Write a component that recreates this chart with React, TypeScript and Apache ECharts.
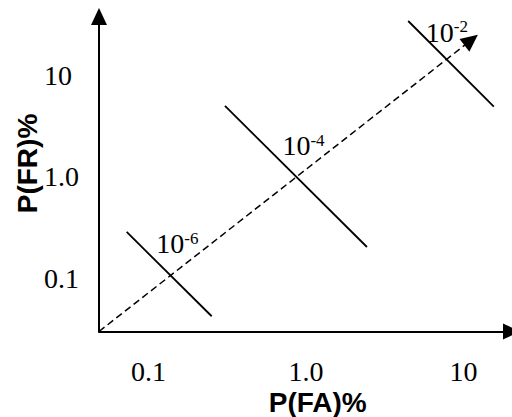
import React, { useEffect, useRef } from "react";
import * as echarts from "echarts";

// Axis extents (percent)
const FA_RANGE = [0.0485, 20.2];
const FR_RANGE = [0.03, 38.1];

// Tick values and labels
const tickValues = [0.1, 1, 10];
const xTickLabels = ["0.1", "1.0", "10"];
const yTickLabels = ["0.1", "1.0", "10"];

// Iso-product lines P(FA)·P(FR) = 10^exp
const isoExponents = ["-6", "-4", "-2"];
const isoStartFA = [0.0727, 0.306, 4.46];
const isoStartFR = [0.287, 5.01, 34.4];
const isoEndFA = [0.252, 2.44, 15.6];
const isoEndFR = [0.0424, 0.204, 4.93];
const isoLabelFA = [0.113, 0.714, 5.81];
const isoLabelFR = [0.217, 2.01, 26.5];

// Dashed trend arrow
const trendFA = [0.0485, 11.2];
const trendFR = [0.03, 22.3];

const L = (v: number) => Math.log10(v);

const lookup = (labels: string[]) => (v: number) => {
  const i = tickValues.findIndex((t) => Math.abs(L(t) - v) < 1e-6);
  return i >= 0 ? labels[i] : "";
};

export default function App() {
  const ref = useRef<HTMLDivElement>(null);
  useEffect(() => {
    if (!ref.current) return;
    const chart = echarts.init(ref.current, null, { renderer: "svg" });
    const serif = "'Liberation Serif', 'Times New Roman', serif";
    const sans = "'Liberation Sans', Arial, sans-serif";
    const axisCommon = {
      type: "value" as const,
      axisTick: { show: false },
      splitLine: { show: false },
    };
    const isoSeries = isoExponents.map((e, i) => ({
      type: "line",
      name: "iso" + e,
      silent: true,
      showSymbol: false,
      lineStyle: { color: "#000", width: 1.8 },
      data: [
        [L(isoStartFA[i]), L(isoStartFR[i])],
        [L(isoEndFA[i]), L(isoEndFR[i])],
      ],
    }));
    const option: any = {
      animation: false,
      grid: { left: 99, right: 0.5, top: 16.5, bottom: 85.5 },
      xAxis: {
        ...axisCommon,
        min: L(FA_RANGE[0]),
        max: L(FA_RANGE[1]),
        axisLine: {
          show: true,
          onZero: false,
          symbol: ["none", "triangle"],
          symbolSize: [16, 17],
          lineStyle: { color: "#000", width: 2 },
        },
        axisLabel: {
          customValues: tickValues.map(L),
          formatter: lookup(xTickLabels),
          fontFamily: serif,
          fontSize: 28,
          color: "#000",
          margin: 26,
        },
      },
      yAxis: {
        ...axisCommon,
        min: L(FR_RANGE[0]),
        max: L(FR_RANGE[1]),
        axisLine: {
          show: true,
          onZero: false,
          symbol: ["none", "triangle"],
          symbolSize: [16, 17],
          lineStyle: { color: "#000", width: 2 },
        },
        axisLabel: {
          customValues: tickValues.map(L),
          formatter: lookup(yTickLabels),
          fontFamily: serif,
          fontSize: 28,
          color: "#000",
          align: "left",
          margin: 55,
        },
      },
      series: [
        ...isoSeries,
        {
          type: "line",
          name: "trend",
          silent: true,
          showSymbol: false,
          lineStyle: { width: 0, opacity: 0 },
          data: [
            [L(trendFA[0]), L(trendFR[0])],
            [L(trendFA[1]), L(trendFR[1])],
          ],
          markLine: {
            silent: true,
            animation: false,
            symbol: ["none", "triangle"],
            symbolSize: [16, 17],
            label: { show: false },
            lineStyle: { color: "#000", width: 1.5, type: [7, 4] },
            emphasis: { disabled: true },
            data: [
              [
                { coord: [L(trendFA[0]), L(trendFR[0])] },
                { coord: [L(trendFA[1]), L(trendFR[1])] },
              ],
            ],
          },
        },
        {
          type: "scatter",
          name: "labels",
          silent: true,
          symbolSize: 1,
          itemStyle: { color: "#ffffff", opacity: 1 },
          data: isoExponents.map((e, i) => ({
            value: [L(isoLabelFA[i]), L(isoLabelFR[i])],
            exp: e,
          })),
          label: {
            show: true,
            position: [0, 0],
            align: "left",
            verticalAlign: "middle",
            color: "#000",
            fontFamily: serif,
            fontSize: 28,
            textBorderWidth: 0,
            formatter: (p: any) => `{a|10}{b|${p.data.exp}}`,
            rich: {
              a: { fontFamily: serif, fontSize: 28, lineHeight: 28, color: "#000" },
              b: { fontFamily: serif, fontSize: 17, lineHeight: 17, color: "#000", verticalAlign: "top" },
            },
          },
        },
      ],
      graphic: [
        {
          type: "text",
          x: 27,
          y: 163.5,
          rotation: Math.PI / 2,
          style: {
            text: "P(FR)%",
            fontFamily: sans,
            fontWeight: "bold",
            fontSize: 28,
            fill: "#000",
            align: "center",
            verticalAlign: "middle",
          },
        },
        {
          type: "text",
          x: 317.7,
          y: 402,
          style: {
            text: "P(FA)%",
            fontFamily: sans,
            fontWeight: "bold",
            fontSize: 28,
            fill: "#000",
            align: "center",
            verticalAlign: "middle",
          },
        },
      ],
    };
    chart.setOption(option);
    return () => chart.dispose();
  }, []);
  return (
    <div
      ref={ref}
      style={{ position: "fixed", left: 0, top: 0, width: 512, height: 417, background: "#fff" }}
    />
  );
}
